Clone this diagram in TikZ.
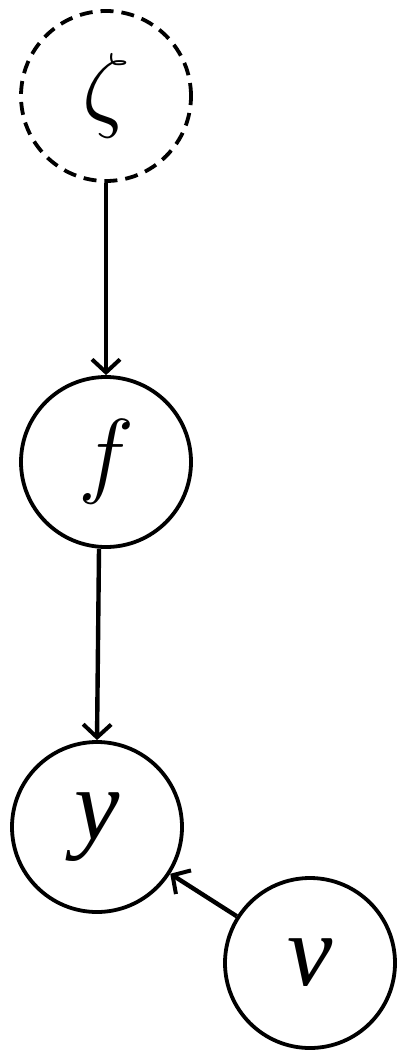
\RequirePackage{fix-cm}
\documentclass[tikz,border=0pt]{standalone}
\usepackage{fontspec}
\setmainfont{Liberation Serif}
\usetikzlibrary{arrows.meta}
\begin{document}
\begin{tikzpicture}[x=1pt,y=-1pt,
  var/.style={circle,draw,line width=3.8pt,minimum size=170pt,inner sep=0pt,font=\fontsize{95}{95}\selectfont},
  latent/.style={var,dashed,dash pattern=on 13pt off 8pt},
  edge/.style={line width=4.4pt,-{Straight Barb[length=13pt,width=28pt,line width=4pt]}}]
\useasboundingbox (0,0) rectangle (396,1051);
\node[latent] (zeta) at (106,96) {$\zeta$};
\node[var] (f) at (106,462) {$f$};
\node[var] (y) at (97,827) {\fontsize{102}{102}\selectfont\textit{y}};
\node[var] (v) at (310,963) {\fontsize{102}{102}\selectfont\textit{v}};
\draw[edge] (zeta) -- (f);
\draw[edge] ([xshift=-7pt]f.south) -- (y.north);
\draw[edge] (v) -- (y);
\end{tikzpicture}
\end{document}
